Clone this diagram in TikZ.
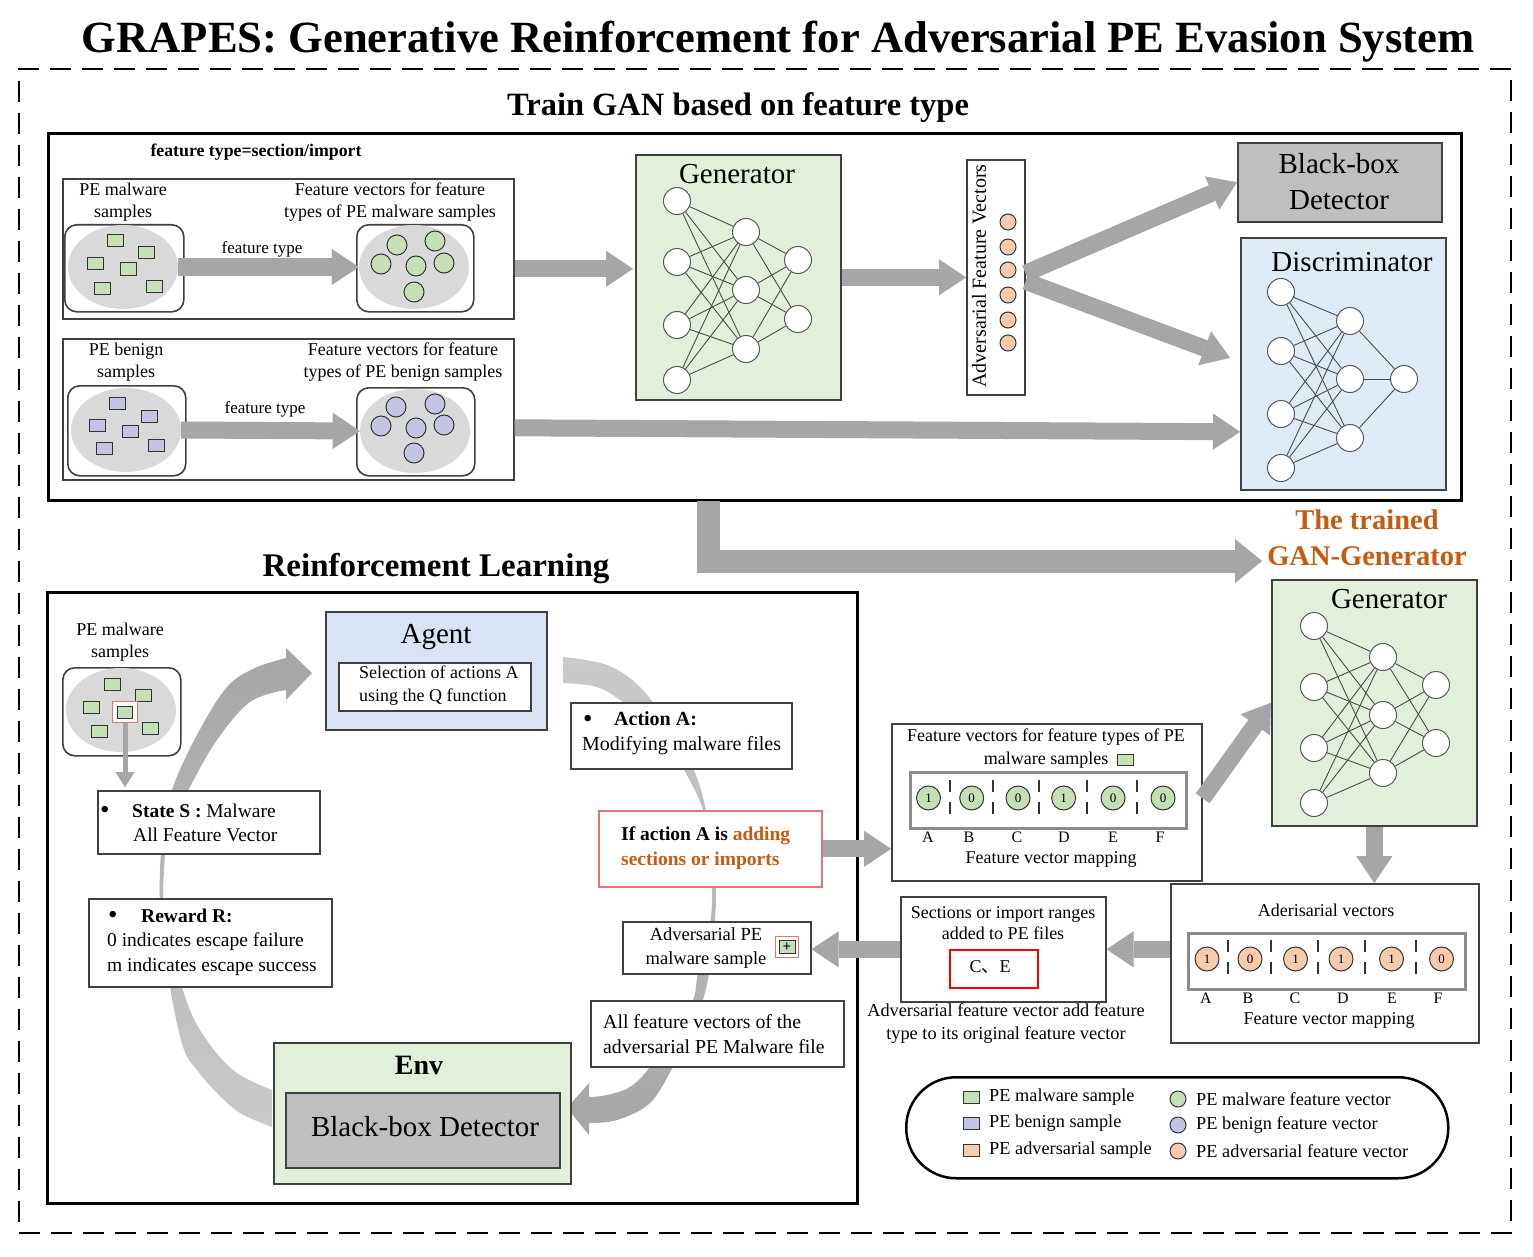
\documentclass[tikz,border=0pt]{standalone}
\usepackage{fontspec}
\setmainfont{Liberation Serif}
\newfontfamily\cjkfont{Noto Sans CJK SC}
\usetikzlibrary{arrows.meta,calc,shapes.geometric}
\definecolor{gbox}{HTML}{E2EFDA}
\definecolor{sgreen}{HTML}{C5E0B4}
\definecolor{spurple}{HTML}{C3C3E2}
\definecolor{sorange}{HTML}{F8CBAD}
\definecolor{ellgray}{HTML}{D9D9D9}
\definecolor{agentblue}{HTML}{DAE3F3}
\definecolor{discblue}{HTML}{DEEBF7}
\definecolor{bbgray}{HTML}{BFBFBF}
\definecolor{agray}{HTML}{A6A6A6}
\definecolor{arcl}{HTML}{CACACA}
\definecolor{otext}{HTML}{C55A11}
\definecolor{lred}{HTML}{E57373}
\definecolor{bord}{HTML}{404040}
\newcommand{\fsz}[2]{\fontsize{#1}{#2}\selectfont}
\newcommand{\bigbul}{{\fontsize{27}{24}\selectfont\raisebox{-1.5pt}{•}}}
\begin{document}
\begin{tikzpicture}[x=1pt,y=-1pt,
  box/.style={draw=bord, line width=1.6pt, fill=white, inner sep=0pt, anchor=north west},
  bigbox/.style={draw=black, line width=3pt, inner sep=0pt, anchor=north west},
  rbox/.style={box, rounded corners=12pt},
  t18/.style={font=\fsz{18}{22.5}, inner sep=0pt, align=center},
  t19/.style={font=\fsz{19.5}{24.5}, inner sep=0pt, align=left, anchor=west},
  big/.style={font=\fsz{29}{32}, inner sep=0pt},
  neuron/.style={circle, draw=black!65, line width=1pt, fill=white, minimum size=27pt, inner sep=0pt},
  sq/.style={rectangle, draw=black!80, line width=1pt, minimum width=16pt, minimum height=12pt, inner sep=0pt},
  fvc/.style={circle, draw=black!80, line width=1pt, minimum size=20pt, inner sep=0pt},
  ell/.style={ellipse, fill=ellgray, minimum width=110pt, minimum height=84pt, inner sep=0pt},
  barrow/.style={draw=agray, line width=17pt, -{Triangle[length=27pt,width=36pt,line width=0.1pt]}},
  nnline/.style={draw=black!70, line width=0.9pt},
  sep/.style={draw=black!80, line width=1.2pt, dash pattern=on 12pt off 10pt},
  lbl/.style={font=\fsz{16}{18}, inner sep=0pt},
]
\useasboundingbox (0,0) rectangle (1533,1257);
\fill[white] (0,0) rectangle (1533,1257);

% title and frame
\node[font=\bfseries\fsz{44.6}{50}, inner sep=0pt, anchor=base] (title) at (778,53) {GRAPES: Generative Reinforcement for Adversarial PE Evasion System};
\node[draw=black, line width=1.6pt, dash pattern=on 21pt off 11pt, minimum width=1492pt, minimum height=1164pt, anchor=north west, inner sep=0pt] (frame) at (18,68) {};

% ---------------- GAN part ----------------
\node[font=\bfseries\fsz{32.5}{36}, inner sep=0pt, anchor=base] (trainlbl) at (738,116) {Train GAN based on feature type};
\node[bigbox, minimum width=1413pt, minimum height=367pt] (gan) at (47,132) {};
\node[font=\bfseries\fsz{17.8}{20}, inner sep=0pt] (ftype) at (256,152) {feature type=section/import};

% malware
\node[box, minimum width=451pt, minimum height=140pt] (malbox) at (62,178) {};
\node[t18] (malsamp) at (123,202) {PE malware\\samples};
\node[t18] (malfv) at (390,202) {Feature vectors for feature\\types of PE malware samples};
\node[rbox, minimum width=119pt, minimum height=87pt] (malL) at (64,224) {};
\node[ell] (malLe) at (123,267) {};
\foreach \x/\y [count=\i] in {115/241,146/253,95/264,128/269,102/288,154/286}
  \node[sq, fill=sgreen] (mq\i) at (\x,\y) {};
\node[rbox, minimum width=117pt, minimum height=87pt] (malR) at (356,224) {};
\node[ell] (malRe) at (414,267) {};
\foreach \x/\y [count=\i] in {397/245,435/241,381/264,416/266,444/263,414/292}
  \node[fvc, fill=sgreen] (mc\i) at (\x,\y) {};
\draw[barrow] (malLe.east) -- (malRe.west);
\node[font=\fsz{17}{20}, inner sep=0pt] (ftl1) at (262,249) {feature type};

% benign
\node[box, minimum width=451pt, minimum height=141pt] (benbox) at (62,338) {};
\node[t18] (bensamp) at (126,362) {PE benign\\samples};
\node[t18] (benfv) at (403,362) {Feature vectors for feature\\types of PE benign samples};
\node[rbox, minimum width=118pt, minimum height=90pt] (benL) at (67,385) {};
\node[ell] (benLe) at (126,430) {};
\foreach \x/\y [count=\i] in {117/403,149/416,97/425,130/431,104/448,156/445}
  \node[sq, fill=spurple] (bq\i) at (\x,\y) {};
\node[rbox, minimum width=118pt, minimum height=88pt] (benR) at (356,387) {};
\node[ell] (benRe) at (415,431) {};
\foreach \x/\y [count=\i] in {396/407,435/404,381/426,416/428,444/425,414/453}
  \node[fvc, fill=spurple] (bc\i) at (\x,\y) {};
\draw[barrow] (benLe.east) -- (benRe.west);
\node[font=\fsz{17}{20}, inner sep=0pt] (ftl2) at (265,409) {feature type};

% generator
\node[box, fill=gbox, minimum width=205pt, minimum height=245pt] (gen) at (635,154) {};
\node[big] (gent) at (737,174) {Generator};
\foreach \y [count=\i] in {201,262,325,380} \node[neuron] (ga\i) at (677,\y) {};
\foreach \y [count=\i] in {232,290,349} \node[neuron] (gb\i) at (746,\y) {};
\foreach \y [count=\i] in {260,319} \node[neuron] (gc\i) at (798,\y) {};
\foreach \i in {1,2,3,4} {\foreach \j in {1,2,3} {\draw[nnline] (ga\i) -- (gb\j);}}
\foreach \i in {1,2,3} {\foreach \j in {1,2} {\draw[nnline] (gb\i) -- (gc\j);}}

% adversarial feature vectors
\node[box, minimum width=58pt, minimum height=235pt] (afv) at (966,159) {};
\node[rotate=90, font=\fsz{20}{22}, inner sep=0pt] (afvt) at (979,276) {Adversarial Feature Vectors};
\foreach \y [count=\i] in {222,247,270,295,320,343} \node[fvc, fill=sorange, minimum size=16pt] (ao\i) at (1008,\y) {};

% black-box and discriminator
\node[box, fill=bbgray, minimum width=204pt, minimum height=79pt] (bbd) at (1237,142) {};
\node[big, align=center, font=\fsz{29}{36}] (bbdt) at (1339,182) {Black-box\\Detector};
\node[box, fill=discblue, minimum width=205pt, minimum height=252pt] (disc) at (1240,237) {};
\node[big] (disct) at (1352,262) {Discriminator};
\foreach \y [count=\i] in {292,351,414,468} \node[neuron] (da\i) at (1281,\y) {};
\foreach \y [count=\i] in {321,379,438} \node[neuron] (db\i) at (1350,\y) {};
\node[neuron] (dc1) at (1404,379) {};
\foreach \i in {1,2,3,4} {\foreach \j in {1,2,3} {\draw[nnline] (da\i) -- (db\j);}}
\foreach \i in {1,2,3} {\draw[nnline] (db\i) -- (dc1);}

% GAN arrows
\draw[barrow] ($(malbox.east)+(0,20)$) -- ($(gen.west)+(-2,-8.5)$);
\draw[barrow] (gen.east) -- (afv.west);
\draw[barrow] ($(afv.east)+(0,-4)$) -- (bbd.west);
\draw[barrow] ($(afv.east)+(0,4)$) -- ($(disc.west)+(-10,-6)$);
\draw[barrow] ($(benbox.east)+(0,18.5)$) -- ($(disc.west)+(0,68)$);

% trained generator arrow
\coordinate (Lstart) at (708.5,500.5);
\coordinate (Ltip) at (1262,561);
\draw[draw=agray, line width=23pt, line join=miter, -{Triangle[length=27pt,width=44pt,line width=0.1pt]}] (Lstart) |- (Ltip);
\node[font=\bfseries\fsz{28.5}{36}, text=otext, align=center, inner sep=0pt] (trained) at (1367,538) {The trained\\GAN-Generator};

% ---------------- RL part ----------------
\node[font=\bfseries\fsz{33}{36}, inner sep=0pt, anchor=base] (rllbl) at (436,576) {Reinforcement Learning};
\node[bigbox, minimum width=810pt, minimum height=611pt] (rl) at (46,591) {};

% cycle arcs
\shade[top color=agray, bottom color=arcl] (272,1127)
  -- plot[smooth, tension=0.6] coordinates {(272,1127) (240,1113) (217,1093) (197,1070) (183,1047) (170,987) (161,920) (160,870) (164,830) (173,787) (198,733) (227,687) (255,668) (286,658)}
  -- (286,648) -- (312,673) -- (286,700) -- (286,690)
  -- plot[smooth, tension=0.6] coordinates {(286,690) (250,702) (217,740) (190,787) (170,830) (164,870) (165,920) (182,987) (200,1030) (233,1070) (272,1090)}
  -- cycle;
\shade[top color=arcl, bottom color=agray] (563,657)
  -- plot[smooth, tension=0.6] coordinates {(563,657) (607,665) (640,687) (668,725) (693,768) (706,810) (714,860) (716,900) (711,960) (703,1000) (690,1035) (673,1067) (650,1103) (617,1120) (589,1123)}
  -- (589,1135) -- (567,1108) -- (589,1083) -- (589,1097)
  -- plot[smooth, tension=0.6] coordinates {(589,1097) (607,1095) (630,1087) (650,1067) (675,1030) (693,1000) (698,973) (709,930) (712,900) (711,860) (703,810) (683,768) (660,730) (623,702) (597,687) (563,683)}
  -- cycle;

% malware samples
\node[t18] (rlmal) at (120,642) {PE malware\\samples};
\node[rbox, minimum width=118pt, minimum height=88pt] (rlmalL) at (62,667) {};
\node[ell] (rlmalLe) at (121,710) {};
\foreach \x/\y [count=\i] in {112/684,143/695,91/707,99/731,150/728}
  \node[sq, fill=sgreen] (rq\i) at (\x,\y) {};
\node[rectangle, draw=lred, line width=1.5pt, fill=white, minimum width=25pt, minimum height=21pt, inner sep=0pt] (hl) at (125,712) {};
\node[sq, fill=sgreen, minimum width=15pt, minimum height=12pt] (hlsq) at (125,712) {};

% state
\node[box, minimum width=222pt, minimum height=63pt] (stateS) at (97,790) {};
\draw[draw=agray, line width=5pt, shorten >=3pt, -{Triangle[length=15pt,width=19pt,line width=0.1pt]}] (hl.south) -- (hl.south |- stateS.north);
\node[t19] (st) at (100,823) {\makebox[32pt][l]{\bigbul}\textbf{State S :} Malware\\\hspace*{33pt}All Feature Vector};

% reward
\node[box, minimum width=243pt, minimum height=88pt] (rewR) at (88,898) {};
\node[t19] (rt) at (107,942) {\makebox[34pt][l]{\hspace{1pt}\bigbul}\textbf{Reward R:}\\0 indicates escape failure\\m indicates escape success};

% agent
\node[box, fill=agentblue, minimum width=221pt, minimum height=118pt] (agent) at (325,611) {};
\node[big] (agentt) at (436,637) {Agent};
\node[box, minimum width=192pt, minimum height=48pt] (qbox) at (338,662) {};
\node[font=\fsz{18}{23}, inner sep=0pt, align=left, anchor=west] (qt) at (359,686) {Selection of actions A\\using the Q function};

% action A
\node[box, minimum width=221pt, minimum height=66pt] (actA) at (570,702) {};
\node[t19, font=\fsz{20}{25}] (at) at (582,733.5) {\makebox[32pt][l]{\hspace{1pt}\bigbul}\textbf{Action A:}\\Modifying malware files};

% if action
\node[box, draw=lred, minimum width=223pt, minimum height=76pt] (ifA) at (598,810) {};
\node[font=\bfseries\fsz{19.5}{25}, inner sep=0pt, align=left, anchor=west] (ift) at (621,848) {If action A is \textcolor{otext}{adding}\\\textcolor{otext}{sections or imports}};

% adversarial PE sample
\node[box, minimum width=188pt, minimum height=52pt] (advpe) at (622,921) {};
\node[font=\fsz{18.5}{24}, inner sep=0pt, align=center] (advpet) at (706,948) {Adversarial PE\\malware sample};
\node[rectangle, draw=lred, line width=1.5pt, fill=white, minimum width=23pt, minimum height=21pt, inner sep=0pt] (icon) at (787,947) {};
\node[sq, fill=sgreen, minimum width=16pt, minimum height=13pt, font=\bfseries\fsz{15}{15}] (iconsq) at (787,947) {+};

% all feature vectors
\node[box, minimum width=253pt, minimum height=66pt] (allfv) at (590,1000) {};
\node[t19, font=\fsz{19.8}{25}] (allfvt) at (603,1034) {All feature vectors of the\\adversarial PE Malware file};

% env
\node[box, fill=gbox, minimum width=297pt, minimum height=141pt] (env) at (273,1042) {};
\node[font=\bfseries\fsz{28}{30}, inner sep=0pt] (envt) at (419,1065) {Env};
\node[box, fill=bbgray, minimum width=274pt, minimum height=75pt] (envbb) at (285,1092) {};
\node[big] (envbbt) at (425,1127) {Black-box Detector};

% ---------------- bottom right ----------------
% generator 2
\node[box, fill=gbox, minimum width=205pt, minimum height=246pt] (gen2) at (1271,579) {};
\node[big] (gen2t) at (1389,599) {Generator};
\foreach \y [count=\i] in {626,687,748,803} \node[neuron] (ha\i) at (1314,\y) {};
\foreach \y [count=\i] in {657,715,773} \node[neuron] (hb\i) at (1383,\y) {};
\foreach \y [count=\i] in {685,743} \node[neuron] (hc\i) at (1436,\y) {};
\foreach \i in {1,2,3,4} {\foreach \j in {1,2,3} {\draw[nnline] (ha\i) -- (hb\j);}}
\foreach \i in {1,2,3} {\foreach \j in {1,2} {\draw[nnline] (hb\i) -- (hc\j);}}

% feature vectors box
\node[box, minimum width=310pt, minimum height=157pt] (fvbox) at (891,723) {};
\node[t18] (fvt1) at (1046,737) {Feature vectors for feature types of PE};
\node[t18] (fvt2) at (1046,760) {malware samples};
\node[sq, fill=sgreen, minimum height=11pt] (fvsq) at ($(fvt2.east)+(17,0)$) {};
\node[box, draw=black!45, line width=3pt, minimum width=276pt, minimum height=56pt] (fvin) at (909,771) {};
\foreach \x/\v [count=\i] in {928.5/1,971.7/0,1018/0,1063.6/1,1113/0,1163/0}
  \node[fvc, fill=sgreen, minimum size=24pt, font=\fsz{13}{14}] (fa\i) at (\x,798) {\v};
\foreach \x in {950,993,1039,1087,1137} \draw[sep] (\x,780) -- (\x,818);
\foreach \x/\l [count=\i] in {928/A,969/B,1017/C,1064/D,1113/E,1160/F}
  \node[lbl] (fal\i) at (\x,837) {\l};
\node[t18] (fvmap1) at (1051,859) {Feature vector mapping};

% adversarial vectors box
\node[box, minimum width=308pt, minimum height=159pt] (advvec) at (1170,883) {};
\node[t18] (advvect) at (1326,910) {Aderisarial vectors};
\node[box, draw=black!45, line width=3pt, minimum width=277pt, minimum height=56pt] (avin) at (1187,932) {};
\foreach \x/\v [count=\i] in {1207/1,1250/0,1295.5/1,1341/1,1391.5/1,1441.5/0}
  \node[fvc, fill=sorange, minimum size=24pt, font=\fsz{13}{14}] (va\i) at (\x,959) {\v};
\foreach \x in {1228,1271,1318,1365,1416} \draw[sep] (\x,940) -- (\x,979);
\foreach \x/\l [count=\i] in {1206/A,1248/B,1295/C,1343/D,1392/E,1438/F}
  \node[lbl] (val\i) at (\x,998) {\l};
\node[t18] (fvmap2) at (1329,1020) {Feature vector mapping};

% sections box
\node[box, minimum width=205pt, minimum height=105pt] (secbox) at (900,896) {};
\node[font=\fsz{18}{21}, inner sep=0pt, align=center] (sect) at (1003,923) {Sections or import ranges\\added to PE files};
\node[box, draw=red, line width=1.8pt, minimum width=88pt, minimum height=38pt] (ce) at (949,949) {};
\node[font=\fsz{18}{20}, inner sep=0pt] (cet) at (990,967) {C{\cjkfont 、}E};
\node[t18, font=\fsz{18.3}{23}] (advnote) at (1006,1024) {Adversarial feature vector add feature\\type to its original feature vector};

% bottom-right arrows
\draw[barrow] (ifA.east) -- (ifA.east -| fvbox.west);
\draw[barrow] ($(fvbox.east)+(0,-4)$) -- (gen2.west);
\draw[barrow] (gen2.south) -- (gen2.south |- advvec.north);
\draw[barrow] (advvec.west |- secbox.east) -- (secbox.east);
\draw[barrow] (secbox.west) -- (secbox.west -| advpe.east);

% legend
\node[draw=black, line width=2.5pt, rounded corners=50pt, minimum width=542pt, minimum height=101pt, anchor=north west, inner sep=0pt] (legend) at (905,1076) {};
\foreach \y/\c/\t [count=\i] in {1097/sgreen/PE malware sample,1123/spurple/PE benign sample,1150/sorange/PE adversarial sample} {
  \node[sq, fill=\c] (lsq\i) at (971,\y) {};
  \node[font=\fsz{18.3}{20}, inner sep=0pt, anchor=west] (lst\i) at (989,\y) {\t};
}
\foreach \y/\c/\t [count=\i] in {1099/sgreen/PE malware feature vector,1125/spurple/PE benign feature vector,1151/sorange/PE adversarial feature vector} {
  \node[fvc, fill=\c, minimum size=16pt] (lc\i) at (1178,\y) {};
  \node[font=\fsz{18.3}{20}, inner sep=0pt, anchor=west] (lct\i) at (1196,\y) {\t};
}
\end{tikzpicture}
\end{document}
